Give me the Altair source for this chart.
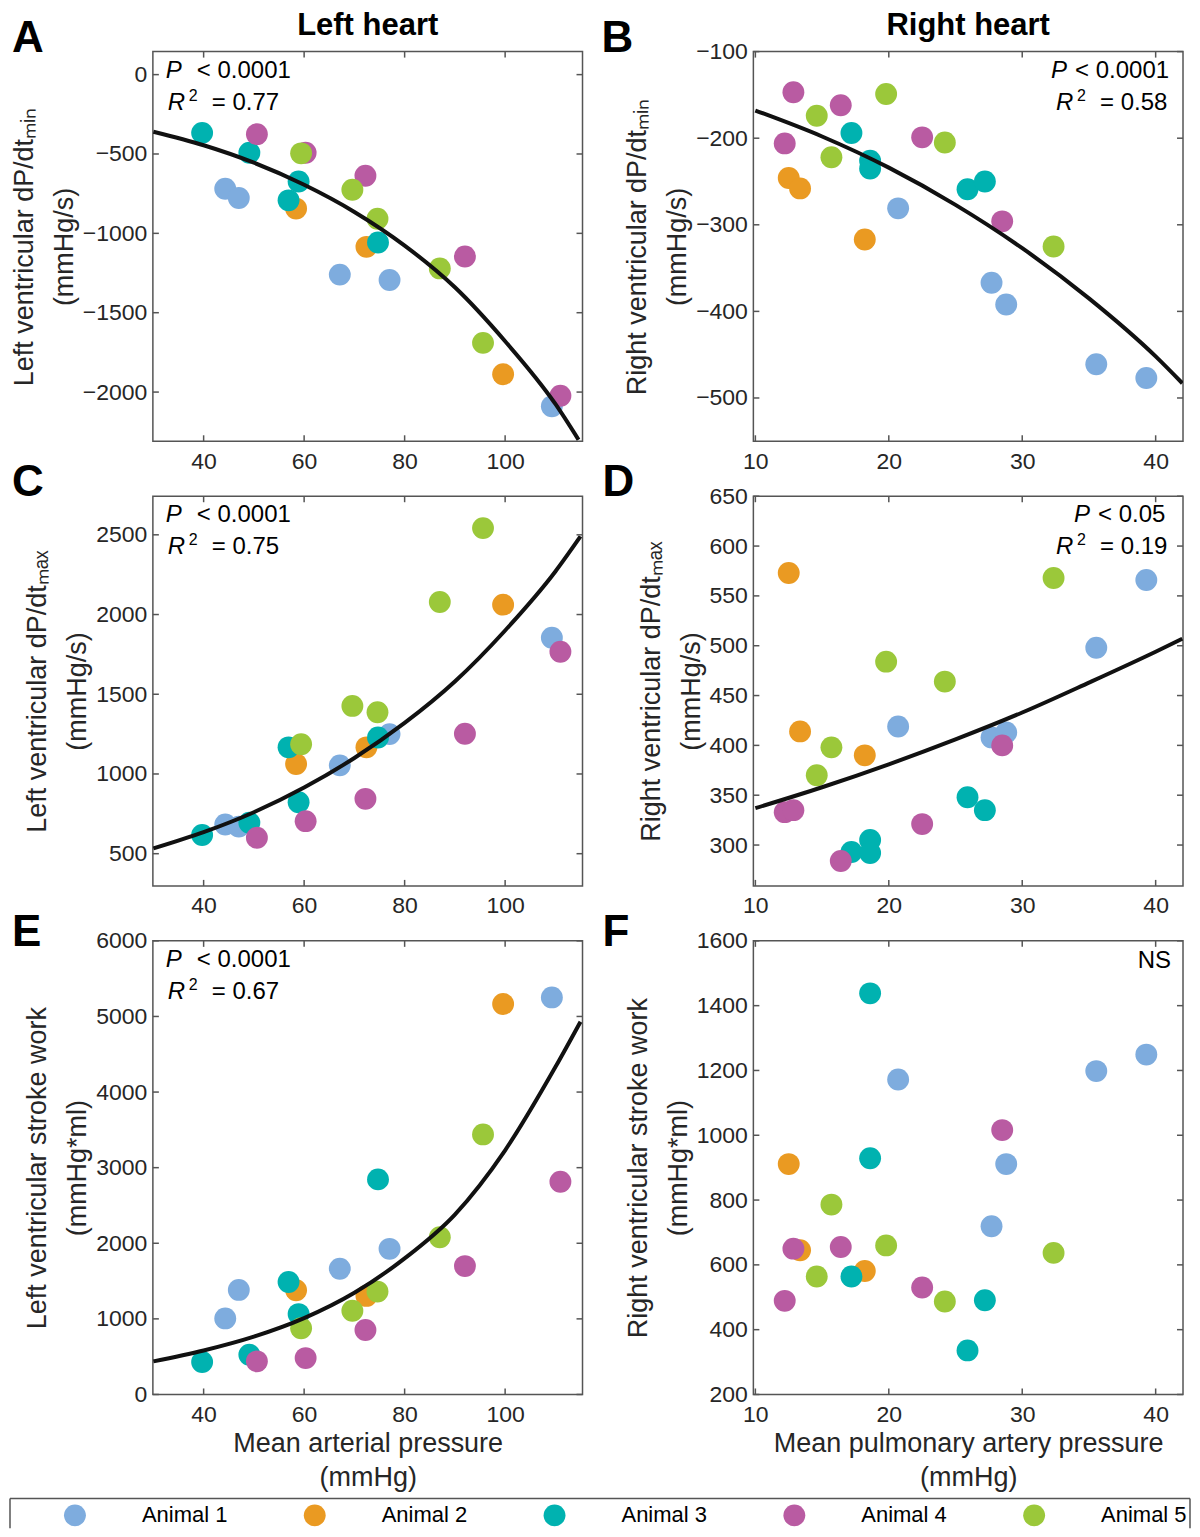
import altair as alt
import pandas as pd

ANIMALS = ["Animal 1", "Animal 2", "Animal 3", "Animal 4", "Animal 5"]
COLORS = ["#7eacde", "#ea9a22", "#00b2b0", "#b95ba2", "#9bc83a"]

# ---------------- Left heart (x = mean arterial pressure, mmHg) ----------------
MAP = {
    "Animal 1": [44.3, 47.0, 67.1, 77.0, 109.3],
    "Animal 2": [58.4, 72.4, 99.6],
    "Animal 3": [39.7, 49.1, 56.9, 58.9, 74.7],
    "Animal 4": [50.6, 60.3, 72.2, 92.0, 111.0],
    "Animal 5": [59.4, 69.6, 74.6, 87.0, 95.6],
}
LV_DPDT_MIN = {
    "Animal 1": [-719, -777, -1260, -1294, -2090],
    "Animal 2": [-844, -1085, -1888],
    "Animal 3": [-367, -492, -792, -673, -1058],
    "Animal 4": [-375, -492, -637, -1146, -2023],
    "Animal 5": [-496, -725, -908, -1221, -1690],
}
LV_DPDT_MAX = {
    "Animal 1": [683, 670, 1054, 1250, 1854],
    "Animal 2": [1062, 1167, 2062],
    "Animal 3": [617, 694, 1167, 823, 1229],
    "Animal 4": [600, 704, 844, 1252, 1767],
    "Animal 5": [1187, 1427, 1387, 2079, 2542],
}
LV_SW = {
    "Animal 1": [1006, 1383, 1663, 1926, 5252],
    "Animal 2": [1379, 1304, 5164],
    "Animal 3": [429, 525, 1488, 1063, 2845],
    "Animal 4": [438, 481, 853, 1698, 2814],
    "Animal 5": [875, 1107, 1361, 2079, 3440],
}

# ---------------- Right heart (x = mean pulmonary artery pressure, mmHg) ----------------
MPAP = {
    "Animal 1": [20.7, 27.7, 28.8, 35.55, 39.3],
    "Animal 2": [12.5, 13.35, 18.2],
    "Animal 3": [17.2, 18.6, 18.6, 25.9, 27.2],
    "Animal 4": [12.2, 12.85, 16.4, 22.5, 28.5],
    "Animal 5": [14.6, 15.7, 19.8, 24.2, 32.35],
}
RV_DPDT_MIN = {
    "Animal 1": [-281, -367, -392, -461, -477],
    "Animal 2": [-246, -258, -317],
    "Animal 3": [-194, -226, -235, -259, -250],
    "Animal 4": [-206, -147, -162, -199, -296],
    "Animal 5": [-174, -222, -149, -205, -325],
}
RV_DPDT_MAX = {
    "Animal 1": [419, 408, 413, 498, 566],
    "Animal 2": [573, 414, 390],
    "Animal 3": [293, 305, 292, 348, 335],
    "Animal 4": [333, 335, 284, 321, 400],
    "Animal 5": [370, 398, 484, 464, 568],
}
RV_SW = {
    "Animal 1": [1172, 719, 911, 1198, 1249],
    "Animal 2": [911, 645, 581],
    "Animal 3": [564, 1438, 929, 336, 491],
    "Animal 4": [489, 650, 655, 530, 1016],
    "Animal 5": [564, 786, 660, 487, 637],
}

# ---------------- fitted curves ----------------
FIT_A_X = [30, 40, 50, 60, 70, 80, 90, 100, 110, 114.6]
FIT_A_Y = [-360, -445, -555, -694, -865, -1077, -1340, -1680, -2075, -2300]
FIT_B_X = [10, 15, 20, 25, 30, 35, 40, 42]
FIT_B_Y = [-168, -198, -234, -277, -327, -385, -452, -483]
FIT_C_X = [30, 40, 50, 60, 70, 80, 90, 100, 110, 115]
FIT_C_Y = [533, 635, 760, 915, 1100, 1320, 1580, 1900, 2270, 2490]
FIT_D_X = [10, 15, 20, 25, 30, 35, 40, 42]
FIT_D_Y = [337, 358, 381, 406, 433, 463, 494, 507]
FIT_E_X = [30, 40, 50, 60, 70, 80, 90, 100, 110, 115]
FIT_E_Y = [438, 582, 765, 1010, 1345, 1800, 2380, 3230, 4330, 4930]

# ---------------- axis ticks ----------------
MAP_TICKS = [40, 60, 80, 100]
MPAP_TICKS = [10, 20, 30, 40]
A_TICKS = [0, -500, -1000, -1500, -2000]
B_TICKS = [-100, -200, -300, -400, -500]
C_TICKS = [500, 1000, 1500, 2000, 2500]
D_TICKS = [300, 350, 400, 450, 500, 550, 600, 650]
E_TICKS = [0, 1000, 2000, 3000, 4000, 5000, 6000]
F_TICKS = [200, 400, 600, 800, 1000, 1200, 1400, 1600]

TICK_COLOR = "#555555"
W = 430
H1, H3 = 390, 454
ONE = pd.DataFrame({"k": [0]})


def points_df(xd, yd):
    rows = []
    for a in ANIMALS:
        for xv, yv in zip(xd[a], yd[a]):
            rows.append({"animal": a, "x": xv, "y": yv})
    return pd.DataFrame(rows)


def text_layer(txt, x, y, size=24, italic=False, bold=False, align="left",
               baseline="middle", color="black"):
    kw = dict(text=txt, fontSize=size, align=align, baseline=baseline, color=color)
    if italic:
        kw["fontStyle"] = "italic"
    if bold:
        kw["fontWeight"] = "bold"
    return alt.Chart(ONE).mark_text(**kw).encode(x=alt.value(x), y=alt.value(y))


def stats_layers(p_text, r_text, px, pgap, rx):
    return [
        text_layer("P", px, 19, italic=True),
        text_layer(p_text, px + pgap, 19),
        text_layer("R", rx, 51, italic=True),
        text_layer("2", rx + 21, 44, size=16),
        text_layer(r_text, rx + 44, 51),
    ]


COLOR_ENC = alt.Color("animal:N", scale=alt.Scale(domain=ANIMALS, range=COLORS), legend=None)


def legend_layers(h):
    top = h + 104
    lx = alt.X("animal:N", scale=alt.Scale(domain=ANIMALS, range=[-78, 882], padding=0),
               axis=None)
    leg_df = pd.DataFrame({"animal": ANIMALS})
    rule = dict(color=TICK_COLOR, strokeWidth=1.5)
    return [
        alt.Chart(leg_df).mark_circle(size=480, opacity=1).encode(
            x=lx, y=alt.value(top + 17), color=COLOR_ENC),
        alt.Chart(leg_df).mark_text(align="left", baseline="middle", fontSize=22, dx=67,
                                    color="black").encode(
            x=lx, y=alt.value(top + 17), text="animal:N"),
        alt.Chart(ONE).mark_rule(**rule).encode(
            x=alt.value(-143), x2=alt.value(1038), y=alt.value(top)),
        alt.Chart(ONE).mark_rule(**rule).encode(
            x=alt.value(-143), y=alt.value(top), y2=alt.value(top + 30)),
        alt.Chart(ONE).mark_rule(**rule).encode(
            x=alt.value(1038), y=alt.value(top), y2=alt.value(top + 30)),
    ]


def panel(pts, fit_x, fit_y, xdom, ydom, xticks, yticks, ytitle, xtitle, h,
          letter, ldx, ldy, extra, title=None, with_legend=False):
    xs = alt.Scale(domain=xdom, zero=False, nice=False)
    ys = alt.Scale(domain=ydom, zero=False, nice=False)
    xaxis = alt.Axis(values=xticks, format="d", title=xtitle)
    yaxis = alt.Axis(values=yticks, format="d", title=ytitle)

    def X():
        # the legend panel resolves x independently, so the extra layers need no axis there
        if with_legend:
            return alt.X("x:Q", scale=xs, axis=None)
        return alt.X("x:Q", scale=xs)

    layers = [
        alt.Chart(pts).mark_circle(size=480, opacity=1).encode(
            x=alt.X("x:Q", scale=xs, axis=xaxis),
            y=alt.Y("y:Q", scale=ys, axis=yaxis),
            color=COLOR_ENC,
        )
    ]
    if fit_x is not None:
        layers.append(
            alt.Chart(pd.DataFrame({"x": fit_x, "y": fit_y}))
            .mark_line(color="#111111", strokeWidth=4, interpolate="monotone", clip=True)
            .encode(x=X(), y=alt.Y("y:Q", scale=ys))
        )
    xt = pd.DataFrame({"x": xticks})
    yt = pd.DataFrame({"y": yticks})
    rule = dict(color=TICK_COLOR, strokeWidth=1.5)
    layers += [
        alt.Chart(xt).mark_rule(**rule).encode(x=X(), y=alt.value(h), y2=alt.value(h - 6)),
        alt.Chart(xt).mark_rule(**rule).encode(x=X(), y=alt.value(0), y2=alt.value(6)),
        alt.Chart(yt).mark_rule(**rule).encode(
            y=alt.Y("y:Q", scale=ys), x=alt.value(0), x2=alt.value(6)),
        alt.Chart(yt).mark_rule(**rule).encode(
            y=alt.Y("y:Q", scale=ys), x=alt.value(W - 6), x2=alt.value(W)),
    ]
    layers += extra
    layers.append(text_layer(letter, ldx, ldy, size=44, bold=True, baseline="alphabetic"))
    if title is not None:
        layers.append(text_layer(title, W / 2, -17, size=31, bold=True, align="center",
                                 baseline="alphabetic"))
    if with_legend:
        layers += legend_layers(h)
    ch = alt.layer(*layers).properties(width=W, height=h)
    if with_legend:
        ch = ch.resolve_scale(x="independent")
    return ch


MAP_DOM = [29.9, 115.4]
MPAP_DOM = [9.85, 42.05]

pA = panel(points_df(MAP, LV_DPDT_MIN), FIT_A_X, FIT_A_Y, MAP_DOM, [-2310, 145],
           MAP_TICKS, A_TICKS, ["Left ventricular dP/dtₘᵢₙ", "(mmHg/s)"], None, H1,
           "A", -141, 0, stats_layers("< 0.0001", "= 0.77", 13, 31, 15), title="Left heart")
pB = panel(points_df(MPAP, RV_DPDT_MIN), FIT_B_X, FIT_B_Y, MPAP_DOM, [-550, -100],
           MPAP_TICKS, B_TICKS, ["Right ventricular dP/dtₘᵢₙ", "(mmHg/s)"], None, H1,
           "B", -152, 0, stats_layers("< 0.0001", "= 0.58", 298, 24, 303),
           title="Right heart")
pC = panel(points_df(MAP, LV_DPDT_MAX), FIT_C_X, FIT_C_Y, MAP_DOM, [298, 2742],
           MAP_TICKS, C_TICKS, ["Left ventricular dP/dtₘₐₓ", "(mmHg/s)"], None, H1,
           "C", -141, 0, stats_layers("< 0.0001", "= 0.75", 13, 31, 15))
pD = panel(points_df(MPAP, RV_DPDT_MAX), FIT_D_X, FIT_D_Y, MPAP_DOM, [259, 650],
           MPAP_TICKS, D_TICKS, ["Right ventricular dP/dtₘₐₓ", "(mmHg/s)"], None, H1,
           "D", -151, 0, stats_layers("< 0.05", "= 0.19", 321, 24, 303))
pE = panel(points_df(MAP, LV_SW), FIT_E_X, FIT_E_Y, MAP_DOM, [0, 6000],
           MAP_TICKS, E_TICKS, ["Left ventricular stroke work", "(mmHg*ml)"],
           ["Mean arterial pressure", "(mmHg)"], H3,
           "E", -141, 5, stats_layers("< 0.0001", "= 0.67", 13, 31, 15), with_legend=True)
pF = panel(points_df(MPAP, RV_SW), None, None, MPAP_DOM, [200, 1600],
           MPAP_TICKS, F_TICKS, ["Right ventricular stroke work", "(mmHg*ml)"],
           ["Mean pulmonary artery pressure", "(mmHg)"], H3,
           "F", -151, 5, [text_layer("NS", 418, 20, align="right")])

chart = (
    alt.concat(pA, pB, pC, pD, pE, pF, columns=2,
               spacing={"row": 55, "column": 171}, bounds="flush")
    .resolve_scale(x="independent", y="independent")
    .properties(padding=0)
    .configure(font="Liberation Sans")
    .configure_view(stroke=TICK_COLOR, strokeWidth=1.5)
    .configure_axis(labelFontSize=23, labelColor="#262626", titleFontSize=27,
                    titleFontWeight="normal", titleColor="#262626", ticks=False,
                    tickSize=0, domain=False, grid=False, labelFlush=False,
                    labelOverlap=False, titleLineHeight=34)
    .configure_axisX(labelPadding=9, titlePadding=4)
    .configure_axisY(labelPadding=6, titlePadding=4, titleLineHeight=40)
)

chart.save("out.html", embed_options={"renderer": "svg", "actions": False})
